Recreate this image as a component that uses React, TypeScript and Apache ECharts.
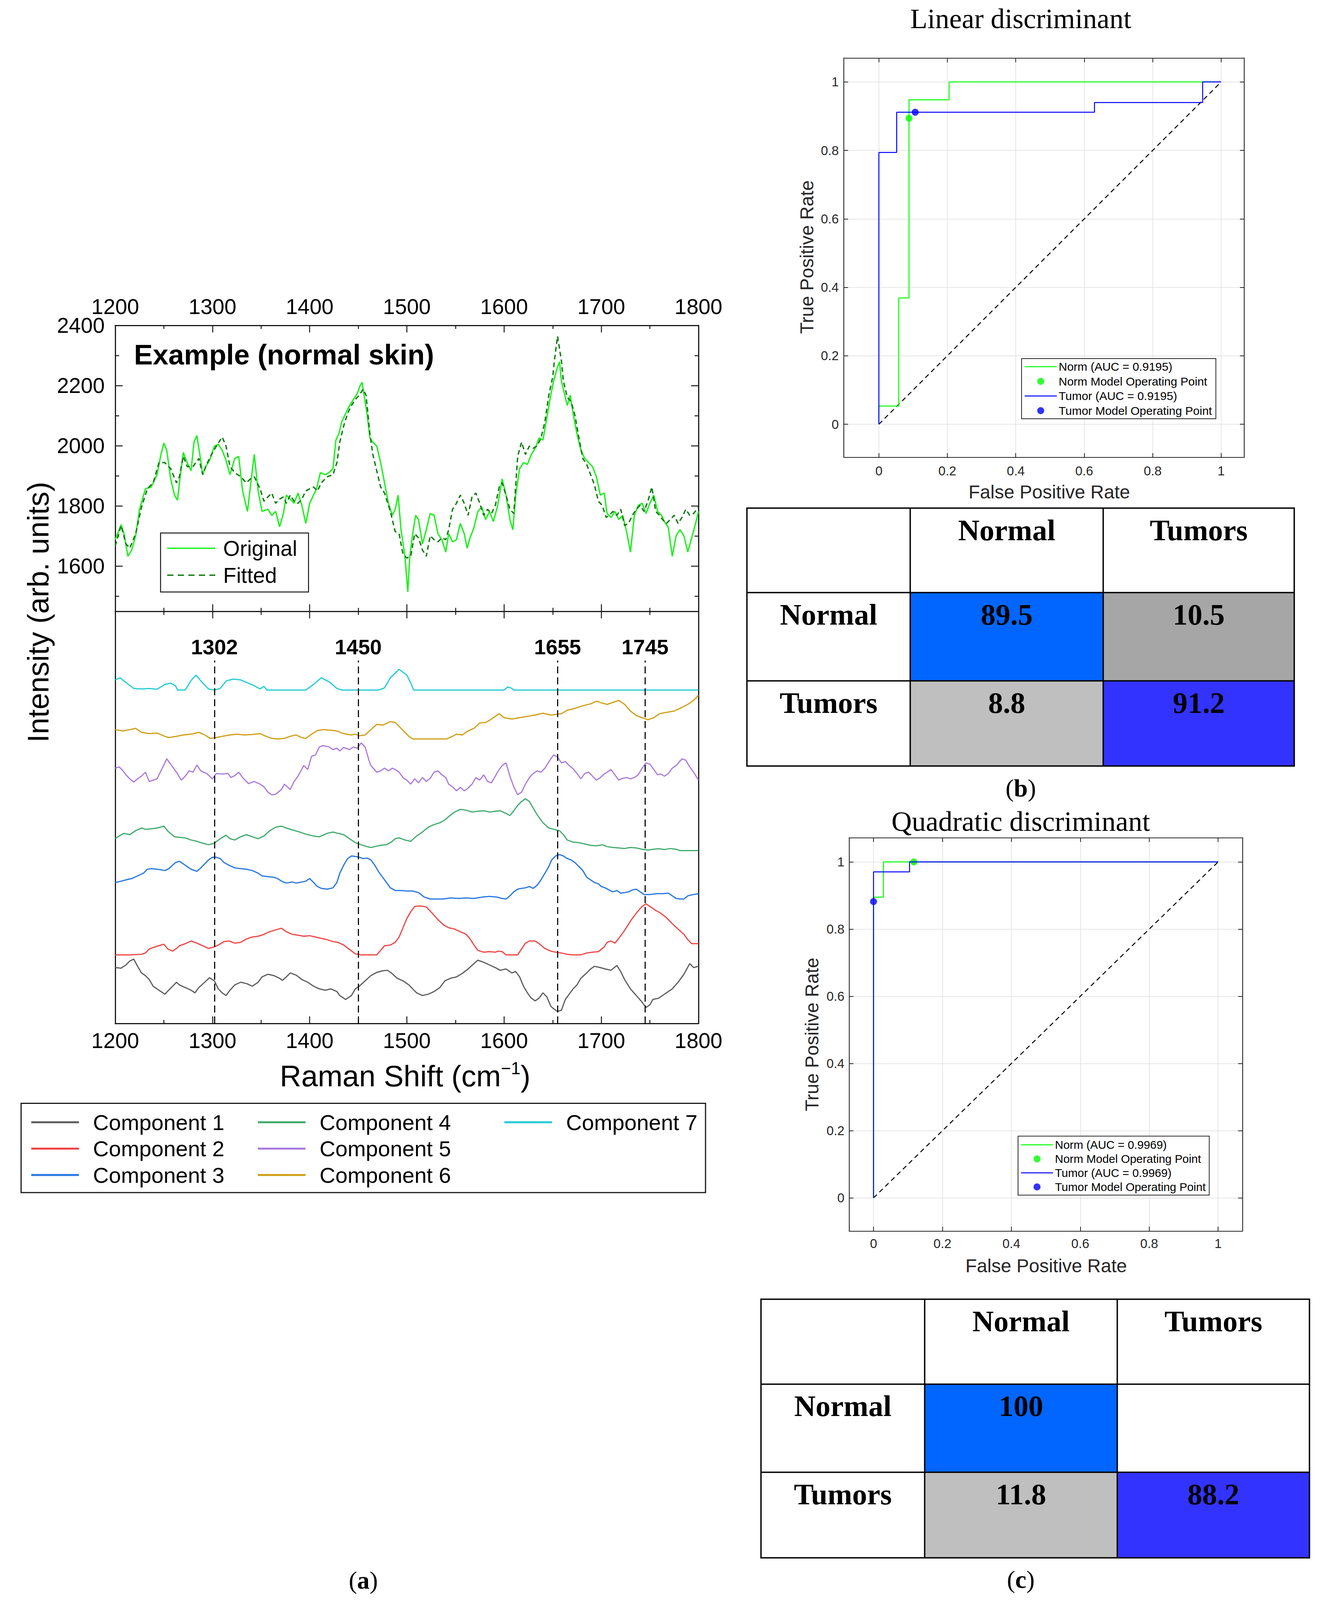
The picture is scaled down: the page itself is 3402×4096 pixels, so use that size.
import React, { useEffect, useRef } from 'react';
import * as echarts from 'echarts';

const SANS = '"Liberation Sans", Arial, Helvetica, sans-serif';
const SERIF = '"Liberation Serif", "Times New Roman", serif';
const AX = '#1a1a1a';
const MAT = '#262626';

// ---------- Panel (a): spectrum ----------
const intensityMajor = [1600, 1800, 2000, 2200, 2400];
const intensityMinor = [1500, 1700, 1900, 2100, 2300];

const original: number[][] = [[1200,1688],[1206,1738],[1209,1708],[1213,1633],[1217,1654],[1221,1701],[1225,1789],[1231,1857],[1237,1863],[1243,1904],[1247,1971],[1250,2009],[1253,1985],[1257,1890],[1261,1836],[1264,1819],[1266,1877],[1270,1978],[1274,1944],[1278,1917],[1281,2012],[1284,2034],[1287,1971],[1290,1904],[1293,1931],[1297,1951],[1302,1999],[1306,2005],[1310,1985],[1314,1951],[1318,1904],[1323,1958],[1327,1965],[1331,1850],[1336,1782],[1339,1863],[1343,1971],[1347,1850],[1351,1782],[1357,1789],[1361,1769],[1365,1782],[1369,1731],[1373,1775],[1376,1836],[1380,1823],[1384,1809],[1388,1843],[1392,1802],[1396,1742],[1400,1809],[1404,1836],[1407,1857],[1411,1911],[1416,1904],[1420,1911],[1424,1924],[1427,2019],[1430,2039],[1433,2080],[1437,2107],[1441,2134],[1445,2154],[1449,2174],[1452,2201],[1454,2211],[1456,2168],[1459,2107],[1462,2026],[1465,2012],[1469,1999],[1473,1944],[1477,1877],[1481,1809],[1485,1769],[1488,1789],[1491,1836],[1494,1721],[1498,1633],[1501,1515],[1503,1633],[1506,1708],[1509,1769],[1512,1755],[1516,1674],[1520,1721],[1524,1775],[1528,1769],[1532,1708],[1536,1688],[1540,1647],[1543,1708],[1547,1681],[1551,1688],[1555,1742],[1559,1708],[1562,1660],[1565,1694],[1569,1728],[1573,1782],[1577,1796],[1581,1755],[1585,1782],[1589,1748],[1593,1796],[1596,1850],[1598,1890],[1602,1836],[1606,1755],[1609,1721],[1612,1836],[1616,1924],[1620,1944],[1624,1938],[1628,1971],[1632,1992],[1636,2026],[1640,2019],[1644,2093],[1648,2168],[1651,2215],[1655,2262],[1657,2279],[1659,2215],[1662,2174],[1665,2134],[1668,2168],[1671,2107],[1675,2039],[1679,1985],[1683,1958],[1687,1944],[1691,1931],[1695,1897],[1699,1836],[1703,1843],[1706,1775],[1710,1762],[1714,1782],[1718,1755],[1722,1769],[1726,1715],[1730,1647],[1734,1769],[1738,1802],[1742,1809],[1746,1775],[1750,1809],[1754,1836],[1758,1782],[1762,1769],[1765,1748],[1769,1728],[1773,1633],[1777,1701],[1781,1721],[1785,1701],[1789,1647],[1793,1694],[1797,1742],[1800,1782]];

const fitted: number[][] = [[1200,1667],[1206,1735],[1211,1674],[1215,1660],[1221,1708],[1227,1796],[1233,1857],[1239,1877],[1245,1944],[1251,1944],[1257,1924],[1263,1877],[1266,1897],[1270,1965],[1274,1931],[1280,1931],[1286,1958],[1290,1904],[1294,1938],[1298,1965],[1304,1999],[1310,2029],[1314,1999],[1318,1931],[1323,1911],[1329,1897],[1335,1877],[1339,1890],[1343,1897],[1349,1857],[1353,1816],[1357,1830],[1361,1843],[1365,1809],[1369,1823],[1373,1830],[1376,1809],[1380,1836],[1384,1816],[1388,1809],[1392,1823],[1396,1850],[1400,1857],[1404,1863],[1408,1850],[1412,1877],[1418,1897],[1424,1904],[1428,1944],[1431,2012],[1435,2066],[1439,2107],[1443,2134],[1447,2154],[1451,2168],[1455,2188],[1458,2168],[1462,2039],[1465,1971],[1469,1917],[1473,1863],[1477,1843],[1483,1782],[1488,1715],[1492,1708],[1496,1640],[1500,1627],[1504,1633],[1508,1708],[1512,1694],[1516,1654],[1520,1633],[1524,1701],[1528,1688],[1532,1681],[1536,1694],[1540,1688],[1543,1721],[1547,1789],[1551,1809],[1555,1836],[1559,1809],[1563,1769],[1567,1830],[1571,1843],[1575,1809],[1579,1769],[1583,1789],[1587,1775],[1591,1802],[1595,1863],[1598,1877],[1602,1836],[1606,1789],[1610,1775],[1614,1965],[1618,2012],[1622,1971],[1626,1999],[1630,1992],[1634,1999],[1638,2026],[1642,2080],[1646,2168],[1650,2228],[1652,2289],[1655,2364],[1659,2282],[1661,2215],[1665,2161],[1669,2147],[1673,2100],[1677,2026],[1681,1958],[1685,1938],[1689,1904],[1693,1870],[1697,1816],[1701,1802],[1705,1762],[1708,1769],[1712,1782],[1716,1769],[1720,1789],[1724,1735],[1728,1742],[1732,1769],[1736,1789],[1740,1802],[1744,1782],[1748,1816],[1752,1863],[1756,1782],[1760,1769],[1763,1755],[1767,1742],[1771,1755],[1775,1769],[1779,1742],[1783,1762],[1787,1789],[1791,1769],[1795,1775],[1800,1796]];

// ---------- Panel (a): components (offset, arb. units) ----------
const componentNames = ['Component 1', 'Component 2', 'Component 3', 'Component 4', 'Component 5', 'Component 6', 'Component 7'];
const componentColors = ['#5c5c5c', '#f04343', '#2475e3', '#3daa6b', '#a97ade', '#cf9d12', '#1fcbd3'];

const comp1: number[][] = [[1200,210],[1206,208],[1211,220],[1215,235],[1219,242],[1223,215],[1227,190],[1231,180],[1235,165],[1239,140],[1245,125],[1251,110],[1255,125],[1259,140],[1263,155],[1266,145],[1272,135],[1278,125],[1282,115],[1286,135],[1292,155],[1297,172],[1302,160],[1306,130],[1310,115],[1314,105],[1318,125],[1323,145],[1329,155],[1335,150],[1341,140],[1347,155],[1351,175],[1357,185],[1363,180],[1369,170],[1372,162],[1376,175],[1380,190],[1386,182],[1392,165],[1398,155],[1404,140],[1410,130],[1416,125],[1422,130],[1428,120],[1431,105],[1437,90],[1443,105],[1447,130],[1451,140],[1457,160],[1463,180],[1469,192],[1475,198],[1480,200],[1484,190],[1490,170],[1496,160],[1502,145],[1506,130],[1510,115],[1516,105],[1522,110],[1528,120],[1534,135],[1539,160],[1545,170],[1551,175],[1557,188],[1563,205],[1569,225],[1573,238],[1579,230],[1585,220],[1591,210],[1596,200],[1602,205],[1608,190],[1612,195],[1616,175],[1620,140],[1624,115],[1628,95],[1632,85],[1636,95],[1640,115],[1644,100],[1648,65],[1651,55],[1655,45],[1659,50],[1663,90],[1667,110],[1671,130],[1675,145],[1679,170],[1685,190],[1689,205],[1693,215],[1699,210],[1704,205],[1710,200],[1716,218],[1720,195],[1724,165],[1730,130],[1736,105],[1742,80],[1746,60],[1750,70],[1753,90],[1759,95],[1765,110],[1769,120],[1773,130],[1779,155],[1785,185],[1791,225],[1795,210],[1800,215]];

const comp2: number[][] = [[1200,258],[1215,258],[1227,260],[1231,265],[1235,280],[1241,288],[1247,295],[1250,298],[1254,280],[1259,272],[1263,282],[1266,292],[1272,300],[1278,310],[1284,302],[1290,292],[1296,282],[1302,288],[1306,295],[1312,308],[1317,310],[1323,302],[1329,305],[1335,318],[1341,325],[1347,328],[1353,335],[1359,345],[1365,352],[1371,358],[1376,345],[1382,335],[1388,332],[1394,328],[1400,330],[1406,325],[1412,320],[1418,315],[1424,308],[1429,305],[1435,295],[1441,278],[1447,262],[1453,258],[1459,258],[1465,258],[1469,258],[1473,275],[1477,292],[1483,295],[1488,305],[1492,325],[1496,360],[1500,395],[1504,420],[1508,440],[1514,442],[1520,438],[1526,415],[1532,390],[1538,370],[1543,360],[1549,355],[1555,345],[1561,335],[1565,318],[1569,295],[1573,275],[1579,268],[1585,270],[1591,268],[1594,272],[1598,270],[1602,258],[1608,258],[1614,258],[1618,280],[1622,302],[1626,310],[1632,310],[1636,300],[1642,282],[1648,272],[1653,268],[1659,265],[1665,260],[1671,258],[1679,258],[1685,265],[1691,268],[1697,270],[1703,288],[1706,305],[1710,310],[1714,302],[1718,320],[1724,350],[1730,385],[1736,415],[1742,440],[1746,450],[1750,440],[1756,425],[1761,415],[1767,398],[1773,375],[1779,355],[1785,335],[1789,315],[1793,300],[1800,300]];

const comp3: number[][] = [[1200,530],[1206,535],[1211,540],[1217,545],[1223,555],[1229,565],[1233,580],[1237,582],[1243,580],[1247,578],[1251,575],[1255,582],[1259,595],[1262,605],[1266,610],[1270,600],[1274,590],[1278,580],[1284,572],[1288,585],[1292,600],[1296,615],[1300,625],[1304,625],[1308,620],[1312,605],[1317,595],[1323,585],[1329,582],[1335,580],[1341,575],[1347,565],[1351,555],[1357,552],[1363,550],[1367,545],[1371,535],[1376,528],[1382,532],[1386,528],[1392,532],[1396,535],[1400,545],[1404,530],[1408,515],[1412,508],[1418,505],[1424,510],[1428,530],[1431,565],[1435,595],[1439,620],[1443,630],[1447,628],[1451,625],[1455,620],[1459,622],[1463,615],[1467,595],[1471,570],[1477,540],[1483,510],[1488,500],[1494,500],[1500,498],[1506,498],[1512,492],[1518,475],[1524,468],[1530,468],[1537,468],[1545,472],[1553,470],[1561,472],[1569,470],[1577,475],[1585,478],[1593,475],[1598,470],[1602,468],[1606,480],[1610,495],[1614,505],[1618,508],[1622,510],[1626,515],[1630,508],[1634,520],[1638,540],[1642,565],[1646,590],[1649,615],[1653,630],[1657,635],[1661,630],[1665,620],[1669,615],[1673,605],[1677,590],[1681,575],[1685,550],[1689,540],[1693,530],[1697,525],[1700,515],[1704,510],[1708,502],[1712,495],[1716,500],[1720,490],[1724,492],[1728,495],[1732,502],[1736,505],[1740,495],[1744,485],[1750,485],[1757,488],[1763,488],[1769,490],[1773,480],[1777,470],[1781,468],[1785,468],[1789,480],[1795,485],[1800,488]];

const comp4: number[][] = [[1200,695],[1204,705],[1209,715],[1215,710],[1221,725],[1227,735],[1231,730],[1237,732],[1243,735],[1250,742],[1255,720],[1261,702],[1266,700],[1272,698],[1278,690],[1284,685],[1290,678],[1296,672],[1302,678],[1308,695],[1314,708],[1318,695],[1323,690],[1329,702],[1335,710],[1341,702],[1347,695],[1353,705],[1359,725],[1365,738],[1371,742],[1376,735],[1382,728],[1388,722],[1396,712],[1404,705],[1410,702],[1418,715],[1424,720],[1429,715],[1435,710],[1441,695],[1447,680],[1453,672],[1459,665],[1463,662],[1467,665],[1473,670],[1479,672],[1484,682],[1488,695],[1492,698],[1498,690],[1504,685],[1510,705],[1516,720],[1522,738],[1528,748],[1534,755],[1539,765],[1543,778],[1549,795],[1555,805],[1561,802],[1567,795],[1573,798],[1579,800],[1585,795],[1591,798],[1596,800],[1602,790],[1606,782],[1610,800],[1614,820],[1618,835],[1622,845],[1626,835],[1630,810],[1634,785],[1640,755],[1646,735],[1651,730],[1657,725],[1661,710],[1665,690],[1671,682],[1677,680],[1683,675],[1689,670],[1695,668],[1701,672],[1706,665],[1712,662],[1718,660],[1724,658],[1730,662],[1736,660],[1742,655],[1748,652],[1753,655],[1759,657],[1765,654],[1771,658],[1777,655],[1781,650],[1800,650]];

const comp5: number[][] = [[1200,960],[1204,965],[1208,950],[1211,935],[1215,920],[1219,908],[1223,920],[1227,930],[1231,945],[1235,910],[1239,915],[1243,920],[1247,950],[1251,980],[1253,995],[1257,975],[1263,945],[1268,915],[1272,930],[1276,950],[1280,945],[1284,972],[1288,950],[1294,940],[1300,920],[1304,940],[1310,938],[1316,940],[1319,925],[1323,932],[1327,945],[1331,925],[1337,902],[1343,910],[1349,900],[1353,890],[1357,870],[1361,860],[1365,862],[1371,880],[1374,900],[1380,880],[1384,910],[1388,930],[1394,970],[1398,955],[1402,1005],[1406,1010],[1410,1040],[1414,1045],[1420,1040],[1424,1030],[1428,1035],[1431,1025],[1435,1038],[1441,1030],[1445,1040],[1449,1035],[1453,1055],[1457,1040],[1461,990],[1463,970],[1469,945],[1473,950],[1477,960],[1481,950],[1485,960],[1488,955],[1492,945],[1496,925],[1500,915],[1504,900],[1508,920],[1512,905],[1516,925],[1520,910],[1524,922],[1528,945],[1532,950],[1536,935],[1540,925],[1543,900],[1547,890],[1551,875],[1555,888],[1559,875],[1563,885],[1567,900],[1571,925],[1575,915],[1579,935],[1583,910],[1587,905],[1591,930],[1594,950],[1598,970],[1602,980],[1606,930],[1610,890],[1614,860],[1618,870],[1622,900],[1626,925],[1630,940],[1634,950],[1638,945],[1642,960],[1648,995],[1651,1010],[1655,1002],[1659,980],[1663,985],[1667,970],[1671,958],[1675,940],[1679,920],[1683,940],[1687,945],[1691,930],[1695,915],[1699,925],[1703,938],[1706,945],[1710,955],[1714,935],[1718,915],[1722,922],[1726,925],[1730,920],[1734,925],[1738,935],[1742,960],[1746,980],[1750,975],[1754,955],[1758,935],[1761,938],[1765,930],[1769,940],[1773,960],[1777,970],[1783,995],[1787,990],[1791,965],[1795,945],[1800,915]];

const comp6: number[][] = [[1200,1105],[1208,1100],[1215,1105],[1221,1110],[1227,1095],[1235,1090],[1243,1092],[1251,1080],[1255,1075],[1263,1080],[1270,1085],[1278,1088],[1286,1095],[1292,1085],[1298,1072],[1304,1075],[1310,1080],[1318,1085],[1325,1088],[1333,1085],[1341,1087],[1349,1090],[1355,1080],[1361,1072],[1367,1070],[1374,1072],[1380,1080],[1386,1085],[1392,1075],[1396,1072],[1402,1088],[1408,1102],[1414,1105],[1422,1103],[1428,1100],[1435,1090],[1443,1085],[1447,1088],[1451,1082],[1457,1085],[1463,1105],[1469,1125],[1475,1122],[1483,1135],[1488,1132],[1494,1110],[1502,1080],[1506,1070],[1518,1070],[1534,1070],[1541,1070],[1547,1080],[1551,1088],[1557,1085],[1563,1100],[1569,1110],[1575,1130],[1581,1132],[1585,1140],[1591,1155],[1595,1165],[1600,1150],[1608,1145],[1616,1150],[1624,1155],[1632,1160],[1640,1167],[1648,1160],[1653,1162],[1659,1165],[1665,1178],[1673,1185],[1681,1195],[1689,1202],[1695,1212],[1701,1205],[1706,1200],[1718,1215],[1724,1200],[1730,1175],[1736,1158],[1742,1150],[1748,1142],[1754,1150],[1760,1165],[1767,1170],[1775,1175],[1781,1185],[1789,1200],[1795,1215],[1800,1235]];

const comp7: number[][] = [[1200,1292],[1205,1300],[1211,1282],[1219,1260],[1227,1258],[1235,1260],[1243,1257],[1251,1275],[1257,1280],[1262,1270],[1264,1254],[1272,1254],[1278,1290],[1283,1310],[1290,1280],[1296,1258],[1302,1254],[1308,1260],[1314,1288],[1321,1295],[1329,1292],[1337,1280],[1343,1270],[1349,1258],[1353,1268],[1356,1254],[1396,1254],[1404,1275],[1412,1300],[1420,1285],[1428,1260],[1433,1254],[1471,1254],[1477,1262],[1483,1300],[1492,1332],[1500,1310],[1504,1280],[1507,1254],[1600,1254],[1604,1266],[1608,1260],[1610,1254],[1800,1254]];

const components = [comp1, comp2, comp3, comp4, comp5, comp6, comp7];
const peakPositions = [1302, 1450, 1655, 1745];
const peakLineTop = 1365;

// ---------- Panels (b), (c): ROC ----------
const rocTicks = [0, 0.2, 0.4, 0.6, 0.8, 1];
const chanceLine = [[0, 0], [1, 1]];

const linNormName = 'Norm (AUC = 0.9195)';
const linTumorName = 'Tumor (AUC = 0.9195)';
const quadNormName = 'Norm (AUC = 0.9969)';
const quadTumorName = 'Tumor (AUC = 0.9969)';
const normPointName = 'Norm Model Operating Point';
const tumorPointName = 'Tumor Model Operating Point';

const linNorm = [[0,0],[0,0.053],[0.058,0.053],[0.058,0.369],[0.088,0.369],[0.088,0.948],[0.205,0.948],[0.205,1],[1,1]];
const linNormPoint = [[0.088, 0.894]];
const linTumor = [[0,0],[0,0.794],[0.052,0.794],[0.052,0.9115],[0.63,0.9115],[0.63,0.94],[0.946,0.94],[0.946,1],[1,1]];
const linTumorPoint = [[0.106, 0.9115]];

const quadNorm = [[0,0],[0,0.895],[0.0285,0.895],[0.0285,1],[1,1]];
const quadNormPoint = [[0.117, 1.0]];
const quadTumor = [[0,0],[0,0.9705],[0.1045,0.9705],[0.1045,1],[1,1]];
const quadTumorPoint = [[0, 0.882]];

// ---------- Confusion tables ----------
const classNames = ['Normal', 'Tumors'];
const tableB = [[89.5, 10.5], [8.8, 91.2]];
const tableBColors = [['#0066ff', '#a6a6a6'], ['#bfbfbf', '#3333ff']];
const tableC: (number | null)[][] = [[100, null], [11.8, 88.2]];
const tableCColors = [['#0066ff', '#ffffff'], ['#bfbfbf', '#3333ff']];

// ---------- helpers ----------
const plain = (v: number) => String(v);

function specX(gridIndex: number, position: string, showLabel: boolean, margin: number) {
  return {
    type: 'value', gridIndex, position, min: 1200, max: 1800, interval: 100,
    axisLine: { show: true, onZero: false, lineStyle: { color: AX, width: 3 } },
    axisTick: { show: true, inside: true, length: 18, lineStyle: { color: AX, width: 2.5 } },
    minorTick: { show: true, splitNumber: 2, length: 9, lineStyle: { color: AX, width: 2.5 } },
    axisLabel: { show: showLabel, formatter: plain, fontSize: 55, fontFamily: SANS, color: '#000', margin },
    splitLine: { show: false }, minorSplitLine: { show: false },
  };
}
function specY(gridIndex: number, position: string, ticks: number[], len: number, line: boolean, labels: boolean) {
  return {
    type: 'value', gridIndex, position, min: 1450, max: 2400,
    axisLine: { show: line, onZero: false, lineStyle: { color: AX, width: 3 } },
    axisTick: { show: true, inside: true, length: len, customValues: ticks, lineStyle: { color: AX, width: 2.5 } },
    axisLabel: labels
      ? { show: true, customValues: ticks, formatter: plain, fontSize: 55, fontFamily: SANS, color: '#000', margin: 27 }
      : { show: false },
    splitLine: { show: false },
  };
}
function compY(position: string) {
  return {
    type: 'value', gridIndex: 1, position, min: 0, max: 1550,
    axisLine: { show: true, onZero: false, lineStyle: { color: AX, width: 3 } },
    axisTick: { show: false }, axisLabel: { show: false }, splitLine: { show: false },
  };
}
const fmtRoc = (v: number) => String(Math.round(v * 10) / 10);
function rocAxis(gridIndex: number, position: string, min: number, max: number, main: boolean, margin: number) {
  return {
    type: 'value', gridIndex, position, min, max,
    axisLine: { show: true, onZero: false, lineStyle: { color: MAT, width: 2.2 } },
    axisTick: { show: true, inside: true, length: 11, customValues: rocTicks, lineStyle: { color: MAT, width: 2 } },
    axisLabel: main
      ? { show: true, customValues: rocTicks, formatter: fmtRoc, fontSize: 33, fontFamily: SANS, color: MAT, margin }
      : { show: false },
    splitLine: { show: main, lineStyle: { color: '#dedede', width: 1.5 } },
  };
}
function rocSeries(xi: number, yi: number, normName: string, norm: number[][], normPt: number[][], tumorName: string, tumor: number[][], tumorPt: number[][], tag: string) {
  return [
    { name: 'chance' + tag, type: 'line', xAxisIndex: xi, yAxisIndex: yi, data: chanceLine, symbol: 'none', lineStyle: { color: '#000', width: 2.5, type: [12, 9] } },
    { name: normName, type: 'line', xAxisIndex: xi, yAxisIndex: yi, data: norm, symbol: 'none', color: '#00ff00', lineStyle: { color: '#00ff00', width: 2.5 } },
    { name: normPointName, type: 'scatter', xAxisIndex: xi, yAxisIndex: yi, data: normPt, symbol: 'circle', symbolSize: 18, color: '#00ff00', itemStyle: { color: '#00ff00' } },
    { name: tumorName, type: 'line', xAxisIndex: xi, yAxisIndex: yi, data: tumor, symbol: 'none', color: '#0000ff', lineStyle: { color: '#0000ff', width: 2.5 } },
    { name: tumorPointName, type: 'scatter', xAxisIndex: xi, yAxisIndex: yi, data: tumorPt, symbol: 'circle', symbolSize: 18, color: '#0000ff', itemStyle: { color: '#0000ff' } },
  ];
}
function txt(text: string, x: number, y: number, size: number, opts: any = {}) {
  const align = opts.align || 'center';
  return {
    type: 'text', x, y, rotation: opts.rotation || 0, silent: true,
    style: {
      text, fill: opts.color || '#000', fontSize: size, fontFamily: opts.family || SANS,
      fontWeight: opts.weight || 'normal', align, textAlign: align,
      verticalAlign: 'middle', textVerticalAlign: 'middle', rich: opts.rich,
    },
  };
}
function tableGraphics(xs: number[], ys: number[], values: (number | null)[][], colors: string[][]) {
  const els: any[] = [];
  for (let r = 0; r < 2; r++) for (let c = 0; c < 2; c++) {
    els.push({ type: 'rect', silent: true, shape: { x: xs[c + 1], y: ys[r + 1], width: xs[c + 2] - xs[c + 1], height: ys[r + 2] - ys[r + 1] }, style: { fill: colors[r][c] } });
  }
  els.push({ type: 'rect', silent: true, shape: { x: xs[0], y: ys[0], width: xs[3] - xs[0], height: ys[3] - ys[0] }, style: { fill: 'none', stroke: '#000', lineWidth: 3.5 } });
  for (const xv of [xs[1], xs[2]]) els.push({ type: 'line', silent: true, shape: { x1: xv, y1: ys[0], x2: xv, y2: ys[3] }, style: { stroke: '#000', lineWidth: 3.5 } });
  for (const yv of [ys[1], ys[2]]) els.push({ type: 'line', silent: true, shape: { x1: xs[0], y1: yv, x2: xs[3], y2: yv }, style: { stroke: '#000', lineWidth: 3.5 } });
  const bold = { family: SERIF, weight: 'bold' };
  for (let c = 0; c < 2; c++) els.push(txt(classNames[c], (xs[c + 1] + xs[c + 2]) / 2, ys[0] + 56, 76, bold));
  for (let r = 0; r < 2; r++) els.push(txt(classNames[r], (xs[0] + xs[1]) / 2, ys[r + 1] + 56, 76, bold));
  for (let r = 0; r < 2; r++) for (let c = 0; c < 2; c++) {
    const v = values[r][c];
    if (v !== null) els.push(txt(String(v), (xs[c + 1] + xs[c + 2]) / 2, ys[r + 1] + 56, 76, bold));
  }
  return els;
}
function caption(letter: string, x: number, y: number) {
  return txt('{n|(}{b|' + letter + '}{n|)}', x, y, 64, {
    family: SERIF,
    rich: {
      n: { fontSize: 64, fontFamily: SERIF, fill: '#000', color: '#000' },
      b: { fontSize: 64, fontFamily: SERIF, fontWeight: 'bold', fill: '#000', color: '#000' },
    },
  });
}

function buildOption() {
  const lineIcon = (w: number, h: number) => `path://M0,0H${w}V${h}H0Z`;
  const dashIcon = 'path://M0,0H16V3.5H0Z M27,0H43V3.5H27Z M54,0H70V3.5H54Z M81,0H97V3.5H81Z M108,0H123V3.5H108Z';

  const compSeries = components.map((d, i) => {
    const s: any = {
      name: componentNames[i], type: 'line', xAxisIndex: 2, yAxisIndex: 4, data: d, symbol: 'none',
      color: componentColors[i], lineStyle: { color: componentColors[i], width: 3 },
    };
    if (i === 0) {
      s.markLine = {
        silent: true, symbol: ['none', 'none'],
        lineStyle: { color: '#000', width: 2.8, type: [18, 10] },
        label: { show: true, position: 'end', formatter: (p: any) => p.name, fontSize: 54, fontWeight: 'bold', fontFamily: SANS, color: '#000', distance: 8 },
        data: peakPositions.map((p) => [{ name: String(p), coord: [p, 0] }, { coord: [p, peakLineTop] }]),
      };
    }
    return s;
  });

  const compLegend = (names: string[], left: number) => ({
    orient: 'vertical', left, top: 2843, itemWidth: 122, itemHeight: 20, itemGap: 7.5,
    selectedMode: false, padding: 0,
    data: names.map((n) => ({ name: n, icon: lineIcon(122, 5) })),
    formatter: '  {name}',
    textStyle: { fontSize: 56, lineHeight: 60, fontFamily: SANS, color: '#000' },
  });

  const rocLegend = (left: number, top: number, gap: number, pad: number[], fs: number, normName: string, tumorName: string) => ({
    orient: 'vertical', left, top, itemWidth: 82, itemHeight: 18, itemGap: gap, selectedMode: false,
    padding: pad, borderColor: MAT, borderWidth: 2, backgroundColor: '#ffffff',
    data: [
      { name: normName, icon: lineIcon(82, 2.5) },
      { name: normPointName, icon: 'circle' },
      { name: tumorName, icon: lineIcon(82, 2.5) },
      { name: tumorPointName, icon: 'circle' },
    ],
    textStyle: { fontSize: fs, lineHeight: 30, fontFamily: SANS, color: '#000' },
  });

  const graphics: any[] = [
    txt('Example (normal skin)', 343, 908, 72, { align: 'left', weight: 'bold' }),
    txt('Intensity (arb. units)', 97, 1567, 76, { rotation: Math.PI / 2 }),
    txt('{a|Raman Shift (cm}{s|−1}{a|)}', 1037, 2754, 76, {
      rich: {
        a: { fontSize: 76, fontFamily: SANS, fill: '#000', color: '#000', lineHeight: 84 },
        s: { fontSize: 44, fontFamily: SANS, fill: '#000', color: '#000', verticalAlign: 'top', lineHeight: 50 },
      },
    }),
    { type: 'rect', silent: true, shape: { x: 54, y: 2824.5, width: 1752, height: 228.5 }, style: { fill: 'none', stroke: AX, lineWidth: 3 } },
    txt('Linear discriminant', 2613, 48, 72, { family: SERIF }),
    txt('Quadratic discriminant', 2613, 2103, 72, { family: SERIF }),
    txt('True Positive Rate', 2065, 658, 48, { rotation: Math.PI / 2, color: MAT }),
    txt('False Positive Rate', 2686, 1259, 48, { color: MAT }),
    txt('True Positive Rate', 2078, 2648, 48, { rotation: Math.PI / 2, color: MAT }),
    txt('False Positive Rate', 2678, 3240, 48, { color: MAT }),
    ...tableGraphics([1912, 2330, 2824, 3313], [1300.7, 1517, 1743, 1961], tableB, tableBColors),
    ...tableGraphics([1948, 2367, 2860, 3352], [3326, 3543.4, 3769, 3988], tableC, tableCColors),
    caption('a', 930, 4045),
    caption('b', 2613, 2017),
    caption('c', 2613, 4043),
  ];

  return {
    animation: false,
    backgroundColor: '#ffffff',
    textStyle: { fontFamily: SANS },
    grid: [
      { left: 295, top: 833, width: 1493, height: 732 },
      { left: 295, top: 1565, width: 1493, height: 1055 },
      { left: 2160, top: 148.5, width: 1025, height: 1022.5 },
      { left: 2173.7, top: 2144.6, width: 1006.7, height: 1006.7 },
    ],
    xAxis: [
      specX(0, 'bottom', false, 16),
      specX(0, 'top', true, 21),
      specX(1, 'bottom', true, 16),
      specX(1, 'top', false, 16),
      rocAxis(2, 'bottom', -0.1025, 1.0675, true, 18),
      rocAxis(2, 'top', -0.1025, 1.0675, false, 18),
      rocAxis(3, 'bottom', -0.0707, 1.0706, true, 16),
      rocAxis(3, 'top', -0.0707, 1.0706, false, 16),
    ],
    yAxis: [
      specY(0, 'left', intensityMajor, 19, true, true),
      specY(0, 'left', intensityMinor, 10, false, false),
      specY(0, 'right', intensityMajor, 19, true, false),
      specY(0, 'right', intensityMinor, 10, false, false),
      compY('left'),
      compY('right'),
      rocAxis(2, 'left', -0.097, 1.07, true, 13),
      rocAxis(2, 'right', -0.097, 1.07, false, 13),
      rocAxis(3, 'left', -0.0985, 1.072, true, 12),
      rocAxis(3, 'right', -0.0985, 1.072, false, 12),
    ],
    legend: [
      {
        orient: 'vertical', left: 411, top: 1364.6, itemWidth: 123, itemHeight: 20, itemGap: 9,
        selectedMode: false, padding: [9, 29, 13, 17], borderColor: AX, borderWidth: 2.5,
        data: [{ name: 'Original', icon: lineIcon(123, 3.5) }, { name: 'Fitted', icon: dashIcon }],
        formatter: ' {name}',
        textStyle: { fontSize: 55, lineHeight: 60, fontFamily: SANS, color: '#000' },
      },
      compLegend(componentNames.slice(0, 3), 80),
      compLegend(componentNames.slice(3, 6), 660),
      compLegend(componentNames.slice(6), 1291),
      rocLegend(2615, 918, 7.5, [5.8, 10, 5.8, 8], 30, linNormName, linTumorName),
      rocLegend(2606, 2908.5, 5.9, [7.3, 9, 6, 7.6], 29.5, quadNormName, quadTumorName),
    ],
    series: [
      { name: 'Original', type: 'line', xAxisIndex: 0, yAxisIndex: 0, data: original, symbol: 'none', color: '#1ff01f', lineStyle: { color: '#1ff01f', width: 3.5 } },
      { name: 'Fitted', type: 'line', xAxisIndex: 0, yAxisIndex: 0, data: fitted, symbol: 'none', color: '#137a13', lineStyle: { color: '#137a13', width: 3.5, type: [12, 8] } },
      ...compSeries,
      ...rocSeries(4, 6, linNormName, linNorm, linNormPoint, linTumorName, linTumor, linTumorPoint, 'L'),
      ...rocSeries(6, 8, quadNormName, quadNorm, quadNormPoint, quadTumorName, quadTumor, quadTumorPoint, 'Q'),
    ],
    graphic: { elements: graphics },
  };
}

export default function App() {
  const ref = useRef<HTMLDivElement>(null);
  useEffect(() => {
    document.body.style.margin = '0';
    const chart = echarts.init(ref.current as HTMLDivElement, null, { renderer: 'svg' });
    chart.setOption(buildOption() as any);
    return () => chart.dispose();
  }, []);
  return <div ref={ref} style={{ position: 'absolute', left: 0, top: 0, width: 3402, height: 4096, background: '#fff' }} />;
}
